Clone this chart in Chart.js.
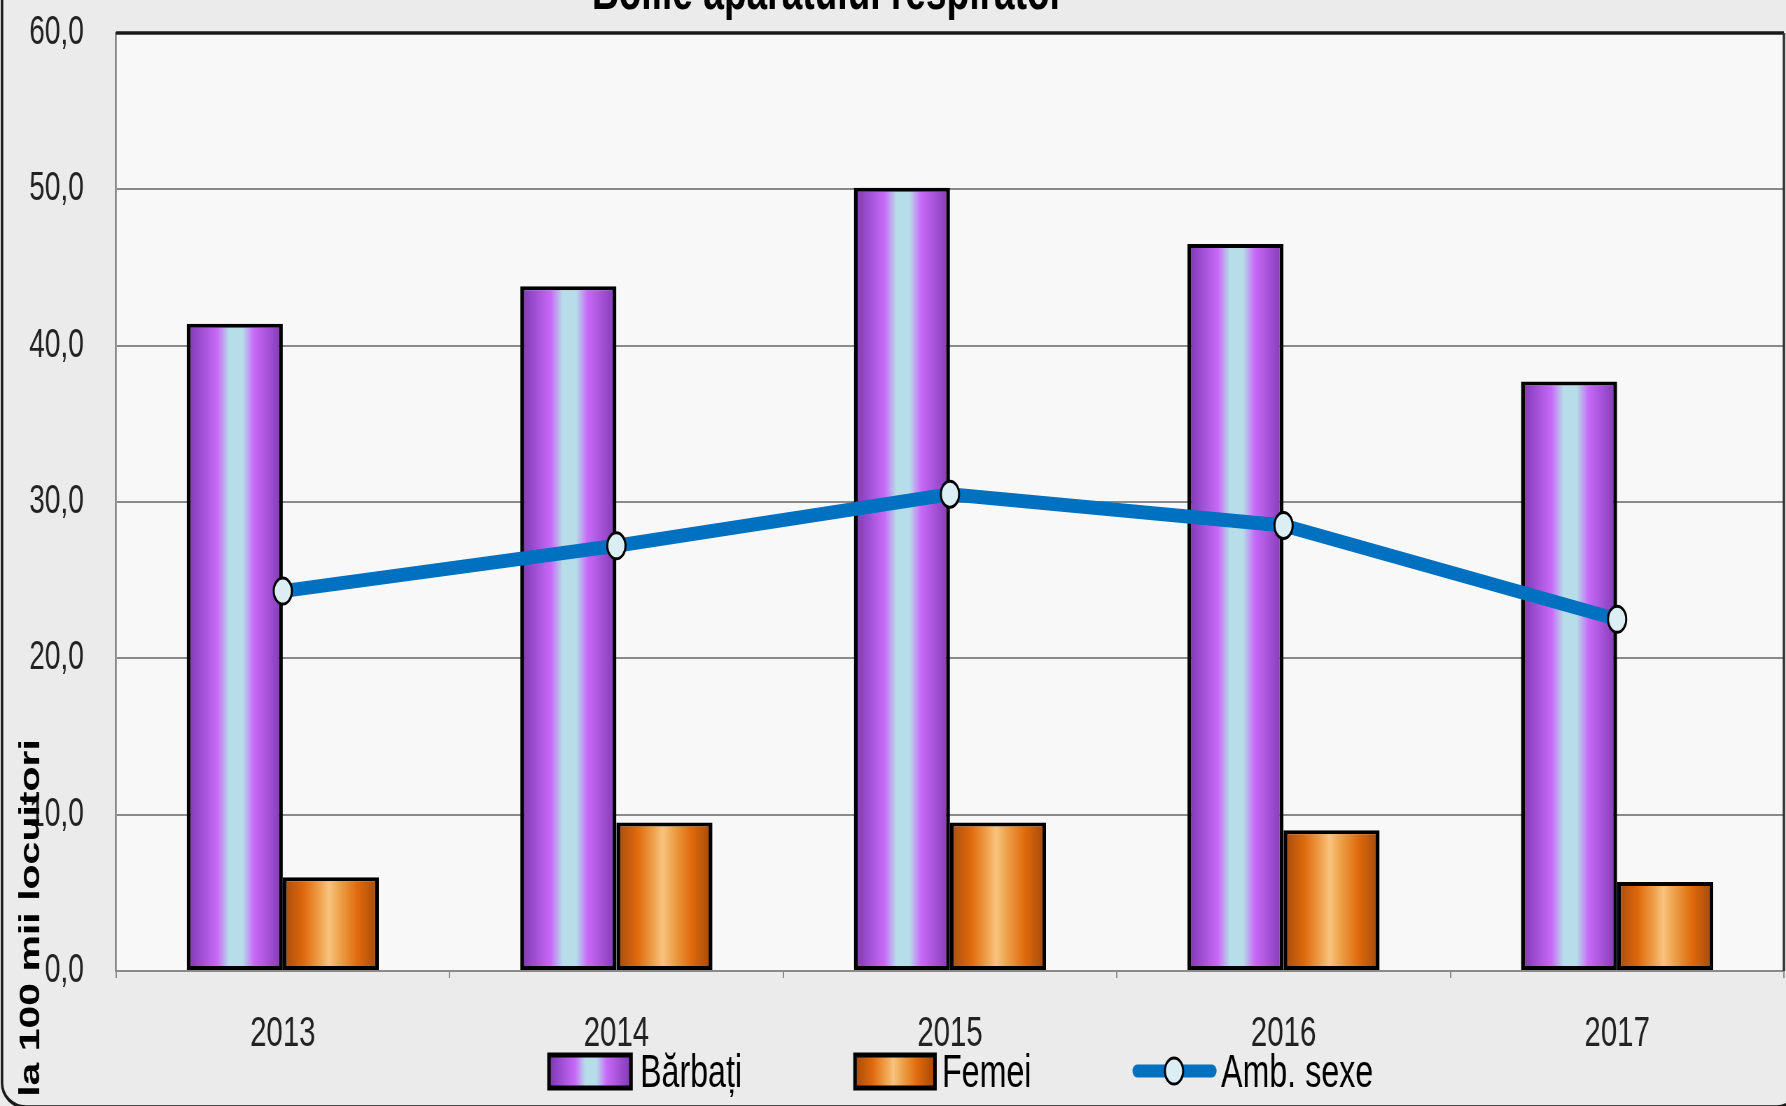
<!DOCTYPE html>
<html>
<head>
<meta charset="utf-8">
<script src="https://cdn.jsdelivr.net/npm/chart.js@4.4.1/dist/chart.umd.min.js"></script>
<style>
html, body { margin: 0; padding: 0; overflow: hidden; background: #ebebeb; }
#wrap { width: 2551px; height: 1106px; transform: scaleX(0.70012); transform-origin: 0 0; }
</style>
</head>
<body>
<div id="wrap"><canvas id="chart" width="2551" height="1106"></canvas></div>
<script>
// data
var years = ["2013", "2014", "2015", "2016", "2017"];
var barbati = [41.4, 43.8, 50.1, 46.5, 37.7];
var femei = [6.0, 9.5, 9.5, 9.0, 5.7];
var ambSexe = [24.3, 27.2, 30.5, 28.5, 22.5];
var yTicks = [0, 10, 20, 30, 40, 50, 60];

var titleText = "Bolile aparatului respirator";
var yTitle = "la 100 mii locuitori";

// the original picture is squeezed sideways, so the canvas is drawn wider and scaled down
var SX = 1786 / 2551;
function lx(x) { return x / SX; }

var CAT_PCT = 0.576;
var FONT = '"Liberation Sans", Arial, sans-serif';
Chart.defaults.font.family = FONT;

var purpleStops = [[0, '#7b36b2'], [0.32, '#c86af8'], [0.44, '#b6dde8'], [0.58, '#b6dde8'], [0.70, '#c86af8'], [1, '#8039b4']];
var orangeStops = [[0, '#a64a0c'], [0.22, '#e06a0e'], [0.38, '#efa04a'], [0.48, '#f8c47e'], [0.6, '#eca048'], [0.78, '#e06a0c'], [1, '#a0480a']];

function makeGrad(ctx, x0, x1, stops) {
    var g = ctx.createLinearGradient(x0, 0, x1, 0);
    stops.forEach(function (s) { g.addColorStop(s[0], s[1]); });
    return g;
}

function barFill(c, slot, stops) {
    var chart = c.chart, xs = chart.scales.x;
    if (!xs || !xs.width || c.dataIndex === undefined) return stops[1][1];
    var bw = xs.width / years.length * CAT_PCT / 2;
    var x0 = xs.getPixelForValue(c.dataIndex) - bw + slot * bw;
    return makeGrad(chart.ctx, x0, x0 + bw, stops);
}

var decor = {
    id: 'decor',
    beforeDraw: function (chart) {
        var ctx = chart.ctx, a = chart.chartArea;
        ctx.save();
        ctx.fillStyle = '#ebebeb';
        ctx.fillRect(0, 0, chart.width, chart.height);
        ctx.strokeStyle = '#1a1a1a';
        ctx.lineWidth = 3.5;
        ctx.beginPath();
        ctx.roundRect(lx(2), -30, lx(1800) - lx(2), 1137, { x: lx(24), y: 24 });
        ctx.stroke();
        ctx.fillStyle = '#f8f8f8';
        ctx.fillRect(a.left, a.top, a.right - a.left, a.bottom - a.top);
        ctx.restore();
    },
    afterDraw: function (chart) {
        var ctx = chart.ctx, a = chart.chartArea;
        ctx.save();
        // frame of plot area: dark top and right
        ctx.strokeStyle = '#1a1a1a';
        ctx.lineWidth = 3.5;
        ctx.beginPath();
        ctx.moveTo(a.left, a.top);
        ctx.lineTo(a.right, a.top);
        ctx.stroke();
        ctx.strokeStyle = '#333';
        ctx.lineWidth = lx(2.5);
        ctx.beginPath();
        ctx.moveTo(a.right, a.top);
        ctx.lineTo(a.right, a.bottom);
        ctx.stroke();

        // title, cut at the top edge
        ctx.fillStyle = '#000';
        ctx.font = 'bold 53px ' + FONT;
        ctx.textAlign = 'center';
        ctx.textBaseline = 'alphabetic';
        ctx.fillText(titleText, lx(828), 9);

        // y axis title
        ctx.save();
        ctx.translate(lx(31), 918);
        ctx.rotate(-Math.PI / 2);
        ctx.font = 'bold 41px ' + FONT;
        ctx.textBaseline = 'middle';
        ctx.fillText(yTitle, 0, 0);
        ctx.restore();

        // legend
        ctx.font = '46px ' + FONT;
        ctx.textAlign = 'left';
        ctx.textBaseline = 'alphabetic';
        var boxes = [[549, 631, purpleStops, 'Bărbați', 640], [855, 935, orangeStops, 'Femei', 942]];
        boxes.forEach(function (b) {
            ctx.fillStyle = makeGrad(ctx, lx(b[0]), lx(b[1]), b[2]);
            ctx.fillRect(lx(b[0]), 1055, lx(b[1]) - lx(b[0]), 33);
            ctx.strokeStyle = '#000';
            ctx.lineWidth = 5;
            ctx.strokeRect(lx(b[0]), 1055, lx(b[1]) - lx(b[0]), 33);
            ctx.fillStyle = '#000';
            ctx.fillText(b[3], lx(b[4]), 1087);
        });
        ctx.strokeStyle = '#0070c0';
        ctx.lineWidth = 13;
        ctx.lineCap = 'round';
        ctx.beginPath();
        ctx.moveTo(lx(1137), 1071);
        ctx.lineTo(lx(1212), 1071);
        ctx.stroke();
        ctx.beginPath();
        ctx.arc(lx(1174), 1071, 13, 0, Math.PI * 2);
        ctx.fillStyle = '#daeef3';
        ctx.fill();
        ctx.strokeStyle = '#000';
        ctx.lineWidth = 3;
        ctx.stroke();
        ctx.fillStyle = '#000';
        ctx.fillText('Amb. sexe', lx(1221), 1087);
        ctx.restore();
    }
};

new Chart(document.getElementById('chart'), {
    data: {
        labels: years,
        datasets: [{
            type: 'bar',
            label: 'Bărbați',
            data: barbati,
            backgroundColor: function (c) { return barFill(c, 0, purpleStops); },
            borderColor: '#000',
            borderWidth: { left: 5.5, right: 5.5, top: 4, bottom: 4 },
            borderSkipped: false,
            categoryPercentage: CAT_PCT,
            barPercentage: 1,
            order: 1
        }, {
            type: 'bar',
            label: 'Femei',
            data: femei,
            backgroundColor: function (c) { return barFill(c, 1, orangeStops); },
            borderColor: '#000',
            borderWidth: { left: 5.5, right: 5.5, top: 4, bottom: 4 },
            borderSkipped: false,
            categoryPercentage: CAT_PCT,
            barPercentage: 1,
            order: 1
        }, {
            type: 'line',
            label: 'Amb. sexe',
            data: ambSexe,
            borderColor: '#0070c0',
            borderWidth: 14,
            pointRadius: 13,
            pointBackgroundColor: '#daeef3',
            pointBorderColor: '#000',
            pointBorderWidth: 3,
            tension: 0,
            fill: false,
            order: 0
        }]
    },
    options: {
        responsive: false,
        animation: false,
        devicePixelRatio: 1,
        layout: { autoPadding: false, padding: { top: 33, right: 3, left: 0, bottom: 0 } },
        plugins: {
            legend: { display: false },
            title: { display: false },
            tooltip: { enabled: false }
        },
        scales: {
            x: {
                offset: true,
                grid: { drawOnChartArea: false, drawTicks: true, tickLength: 7, color: '#8a8a8a', lineWidth: 2, offset: true },
                border: { color: '#8a8a8a', width: 2 },
                ticks: { color: '#222', font: { size: 42 }, padding: 31, maxRotation: 0, autoSkip: false },
                afterFit: function (s) { s.height = 135; s.paddingLeft = 0; s.paddingRight = 0; }
            },
            y: {
                min: 0,
                max: 60,
                grid: { color: '#8a8a8a', lineWidth: 2, drawTicks: false },
                border: { color: '#8a8a8a', width: 2.8 },
                ticks: {
                    color: '#222',
                    font: { size: 40 },
                    padding: 46,
                    callback: function (v) { return v.toFixed(1).replace('.', ','); }
                },
                afterBuildTicks: function (s) { s.ticks = yTicks.map(function (v) { return { value: v }; }); },
                afterFit: function (s) { s.width = lx(116); s.paddingTop = 0; s.paddingBottom = 0; }
            }
        }
    },
    plugins: [decor]
});
</script>
</body>
</html>
